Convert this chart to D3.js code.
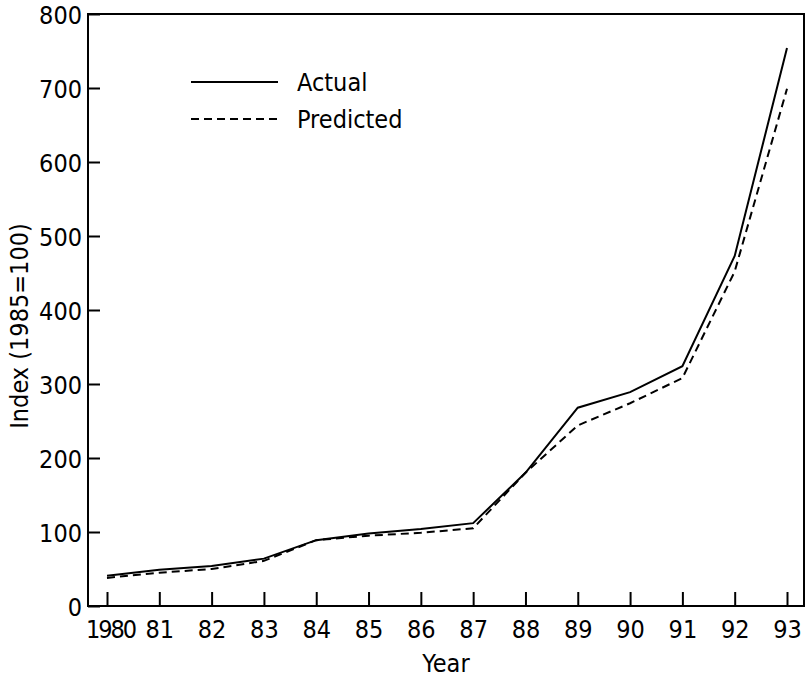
<!DOCTYPE html>
<meta charset="utf-8">
<style>
body { margin: 0; background: #fff; }
svg text {
    font-family: "DejaVu Sans Condensed", "DejaVu Sans", sans-serif;
    font-stretch: condensed;
    fill: #000;
}
.axis text { font-size: 25px; }
.label { font-size: 25px; }
.legend text { font-size: 25px; }
</style>
<body>
<script src="https://d3js.org/d3.v7.min.js"></script>
<script>
var years = [1980, 1981, 1982, 1983, 1984, 1985, 1986, 1987, 1988, 1989, 1990, 1991, 1992, 1993]
var yearLabels = ['1980', '81', '82', '83', '84', '85', '86', '87', '88', '89', '90', '91', '92', '93']
var actual = [41, 49, 54, 64, 89, 98, 104, 112, 180, 268, 289, 324, 473, 754]
var predicted = [38, 45, 50, 61, 89, 95, 99, 105, 180, 244, 274, 308, 452, 699]
var yTicks = [0, 100, 200, 300, 400, 500, 600, 700, 800]

var width = 809
var height = 682
var box = { left: 88, right: 804, top: 14, bottom: 606 }

var svg = d3.select('body')
    .append('svg')
    .attr('width', width)
    .attr('height', height)

var x = d3.scaleLinear()
    .domain([1980, 1993])
    .range([107, 787])

var y = d3.scaleLinear()
    .domain([0, 800])
    .range([box.bottom, box.top])

// frame
svg.append('rect')
    .attr('x', box.left)
    .attr('y', box.top)
    .attr('width', box.right - box.left)
    .attr('height', box.bottom - box.top)
    .attr('fill', 'none')
    .attr('stroke', '#000')
    .attr('stroke-width', 2)

// y axis, ticks point inwards
var yAxis = svg.append('g')
    .attr('class', 'axis')
    .attr('transform', 'translate(' + box.left + ',0)')
    .call(d3.axisRight(y).tickValues(yTicks).tickSize(12).tickPadding(-18))
yAxis.select('.domain').remove()
yAxis.selectAll('line').attr('stroke-width', 2)
yAxis.selectAll('text')
    .attr('text-anchor', 'end')
    .attr('dy', '0.36em')

// x axis, ticks point up
var xAxis = svg.append('g')
    .attr('class', 'axis')
    .attr('transform', 'translate(0,' + box.bottom + ')')
    .call(d3.axisTop(x).tickValues(years)
        .tickFormat(function (d, i) { return yearLabels[i] })
        .tickSize(14).tickPadding(-46))
xAxis.select('.domain').remove()
xAxis.selectAll('line').attr('stroke-width', 2)
xAxis.selectAll('text').attr('dy', 0)
xAxis.selectAll('text').filter(function (d) { return d === 1980 })
    .attr('dx', 3)
    .style('letter-spacing', '-2px')

svg.append('text')
    .attr('class', 'label')
    .attr('x', 446)
    .attr('y', 672)
    .attr('text-anchor', 'middle')
    .text('Year')

svg.append('text')
    .attr('class', 'label')
    .attr('transform', 'translate(28,' + 326 + ') rotate(-90)')
    .attr('text-anchor', 'middle')
    .text('Index (1985=100)')

var line = d3.line()
    .x(function (d, i) { return x(years[i]) })
    .y(function (d) { return y(d) })

svg.append('path')
    .datum(actual)
    .attr('d', line)
    .attr('fill', 'none')
    .attr('stroke', '#000')
    .attr('stroke-width', 2)

svg.append('path')
    .datum(predicted)
    .attr('d', line)
    .attr('fill', 'none')
    .attr('stroke', '#000')
    .attr('stroke-width', 2)
    .attr('stroke-dasharray', '8,5')

// legend
var legend = svg.append('g').attr('class', 'legend')
var items = [
    { name: 'Actual', dash: null, y: 82 },
    { name: 'Predicted', dash: '8,5', y: 119 }
]
items.forEach(function (d) {
    legend.append('line')
        .attr('x1', 191).attr('x2', 278)
        .attr('y1', d.y).attr('y2', d.y)
        .attr('stroke', '#000')
        .attr('stroke-width', 2)
        .attr('stroke-dasharray', d.dash)
    legend.append('text')
        .attr('x', 297)
        .attr('y', d.y + 9)
        .text(d.name)
})
</script>
</body>
